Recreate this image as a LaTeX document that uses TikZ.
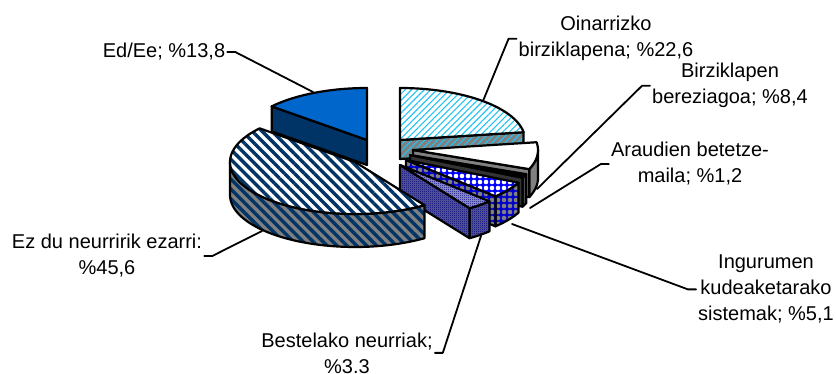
\documentclass[tikz,border=0pt]{standalone}
\usepackage{fontspec}
\setmainfont{Liberation Sans}
\usetikzlibrary{patterns,patterns.meta}
\definecolor{edtop}{HTML}{0066CC}
\definecolor{edside}{HTML}{003366}
\definecolor{stripe}{HTML}{003366}
\definecolor{cyandash}{HTML}{22C4F4}
\definecolor{sidegray}{HTML}{808080}
\definecolor{checknavy}{HTML}{000080}
\definecolor{checkwall}{HTML}{5A5A96}
\definecolor{checklight}{HTML}{9A9AD0}
\pgfdeclarepatternformonly{finecheck}{\pgfpointorigin}{\pgfqpoint{2pt}{2pt}}{\pgfqpoint{2pt}{2pt}}{%
	\pgfpathrectangle{\pgfpointorigin}{\pgfqpoint{1pt}{1pt}}%
	\pgfpathrectangle{\pgfqpoint{1pt}{1pt}}{\pgfqpoint{1pt}{1pt}}%
	\pgfusepath{fill}}
\begin{document}
\begin{tikzpicture}[x=1pt, y=-1pt, line join=round, line cap=round,
		font=\fontsize{20}{26}\selectfont,
		edge/.style={draw=black, line width=2.2pt},
		lbl/.style={align=center, inner sep=2pt},
		leader/.style={line width=1.8pt},
		oinrtop/.style={preaction={fill=white}, pattern={Lines[angle=45,distance=4.5pt,line width=1.1pt]}, pattern color=cyandash},
		oinrside/.style={preaction={fill=sidegray}, pattern={Lines[angle=45,distance=4.5pt,line width=1.1pt]}, pattern color=cyandash},
		dottop/.style={preaction={fill=blue}, pattern={Dots[radius=2.3pt,distance=6pt]}, pattern color=white},
		dotside/.style={preaction={fill=blue!80!black}, pattern={Dots[radius=2.3pt,distance=6pt]}, pattern color=sidegray},
		checktop/.style={preaction={fill=checklight}, pattern=finecheck, pattern color=checknavy},
		checkside/.style={preaction={fill=checkwall}, pattern=finecheck, pattern color=checknavy},
		ezdutop/.style={preaction={fill=white}, pattern={Lines[angle=-45,distance=7pt,line width=3.4pt]}, pattern color=stripe},
		ezduside/.style={preaction={fill=sidegray}, pattern={Lines[angle=-45,distance=7pt,line width=3.4pt]}, pattern color=stripe}]
	\useasboundingbox (0,0) rectangle (836,374);
	% Ed/Ee
	\begin{scope}[shift={(367,140)}]
		\draw[edge, fill=edside] (0,0) -- ({125*sin(310.3)},{-52*cos(310.3)}) -- ++(0,25) -- (0,25) -- cycle;
		\draw[edge, fill=edtop] (0,0) -- plot[domain=310.3:360, samples=30, variable=\t] ({125*sin(\t)},{-52*cos(\t)}) -- cycle;
	\end{scope}
	% Oinarrizko birziklapena
	\begin{scope}[shift={(400,140)}]
		\draw[edge, oinrside] (0,0) -- ({125*sin(81.4)},{-52*cos(81.4)}) -- ++(0,19) -- (0,19) -- cycle;
		\draw[edge, oinrtop] (0,0) -- plot[domain=0:81.4, samples=40, variable=\t] ({125*sin(\t)},{-52*cos(\t)}) -- cycle;
	\end{scope}
	% Birziklapen bereziagoa
	\begin{scope}[shift={(413,150)}]
		\draw[edge, fill=sidegray] plot[domain=90:111.6, samples=15, variable=\t] ({125*sin(\t)},{-52*cos(\t)}) -- plot[domain=111.6:90, samples=15, variable=\t] ({125*sin(\t)},{-52*cos(\t)+28}) -- cycle;
		\draw[edge, fill=sidegray] (0,0) -- ({125*sin(111.6)},{-52*cos(111.6)}) -- ++(0,28) -- (0,28) -- cycle;
		\draw[edge, fill=white] (0,0) -- plot[domain=81.4:111.6, samples=20, variable=\t] ({125*sin(\t)},{-52*cos(\t)}) -- cycle;
	\end{scope}
	% Araudien betetze-maila
	\begin{scope}[shift={(410,155)}]
		\draw[edge, fill=black!70] plot[domain=111.6:115.9, samples=5, variable=\t] ({125*sin(\t)},{-52*cos(\t)}) -- plot[domain=115.9:111.6, samples=5, variable=\t] ({125*sin(\t)},{-52*cos(\t)+29}) -- cycle;
		\draw[edge, fill=black!80] (0,0) -- ({125*sin(115.9)},{-52*cos(115.9)}) -- ++(0,29) -- (0,29) -- cycle;
		\draw[edge, fill=black] (0,0) -- plot[domain=111.6:115.9, samples=5, variable=\t] ({125*sin(\t)},{-52*cos(\t)}) -- cycle;
	\end{scope}
	% Ingurumen kudeaketarako sistemak
	\begin{scope}[shift={(406,160)}]
		\draw[edge, dotside] plot[domain=115.9:134.3, samples=12, variable=\t] ({125*sin(\t)},{-52*cos(\t)}) -- plot[domain=134.3:115.9, samples=12, variable=\t] ({125*sin(\t)},{-52*cos(\t)+30}) -- cycle;
		\draw[edge, dotside] (0,0) -- ({125*sin(134.3)},{-52*cos(134.3)}) -- ++(0,30) -- (0,30) -- cycle;
		\draw[edge, dottop] (0,0) -- plot[domain=115.9:134.3, samples=12, variable=\t] ({125*sin(\t)},{-52*cos(\t)}) -- cycle;
	\end{scope}
	% Bestelako neurriak
	\begin{scope}[shift={(400,165)}]
		\draw[edge, checkside] plot[domain=134.3:146.2, samples=10, variable=\t] ({125*sin(\t)},{-52*cos(\t)}) -- plot[domain=146.2:134.3, samples=10, variable=\t] ({125*sin(\t)},{-52*cos(\t)+30}) -- cycle;
		\draw[edge, checkside] (0,0) -- ({125*sin(146.2)},{-52*cos(146.2)}) -- ++(0,30) -- (0,30) -- cycle;
		\draw[edge, checktop] (0,0) -- plot[domain=134.3:146.2, samples=10, variable=\t] ({125*sin(\t)},{-52*cos(\t)}) -- cycle;
	\end{scope}
	% Ez du neurririk ezarri
	\begin{scope}[shift={(355,162)}]
		\draw[edge, ezduside] plot[domain=146.2:270, samples=50, variable=\t] ({125*sin(\t)},{-52*cos(\t)}) -- plot[domain=270:146.2, samples=50, variable=\t] ({125*sin(\t)},{-52*cos(\t)+33}) -- cycle;
		\draw[edge, ezdutop] (0,0) -- plot[domain=146.2:310.3, samples=80, variable=\t] ({125*sin(\t)},{-52*cos(\t)}) -- cycle;
	\end{scope}
	% labels (base = last line)
	\node[lbl, anchor=base] (edlbl) at (164,58) {Ed/Ee; \%13,8};
	\node[lbl, anchor=base] (oinrlbl) at (606,57) {Oinarrizko\\birziklapena; \%22,6};
	\node[lbl, anchor=base] (berezlbl) at (730,104) {Birziklapen\\bereziagoa; \%8,4};
	\node[lbl, anchor=base] (araulbl) at (690,183) {Araudien betetze-\\maila; \%1,2};
	\node[lbl, anchor=base] (ingulbl) at (766,321) {Ingurumen\\kudeaketarako\\sistemak; \%5,1};
	\node[lbl, anchor=base] (bestlbl) at (347,373) {Bestelako neurriak;\\\%3.3};
	\node[lbl, anchor=base] (ezdulbl) at (107,275) {Ez du neurririk ezarri:\\\%45,6};
	% leader ends
	\coordinate (edend) at (313,92);
	\coordinate (oinrend) at (483,101);
	\coordinate (berezend) at (537,189);
	\coordinate (rauend) at (530,208);
	\coordinate (inguend) at (512,224);
	\coordinate (bestend) at (481,236);
	\coordinate (ezduend) at (262,231);
	\draw[leader] (edlbl.east) -- ++(8,0) -- (edend);
	\draw[leader] (oinrlbl.west) -- ++(-8,0) -- (oinrend);
	\draw[leader] (berezlbl.west) -- ++(-8,0) -- (berezend);
	\draw[leader] (araulbl.west) -- ++(-8,0) -- (rauend);
	\draw[leader] (ingulbl.west) -- ++(-8,0) -- (inguend);
	\draw[leader] (bestlbl.east) -- ++(8,0) -- (bestend);
	\draw[leader] (ezdulbl.east) -- ++(8,0) -- (ezduend);
\end{tikzpicture}
\end{document}
